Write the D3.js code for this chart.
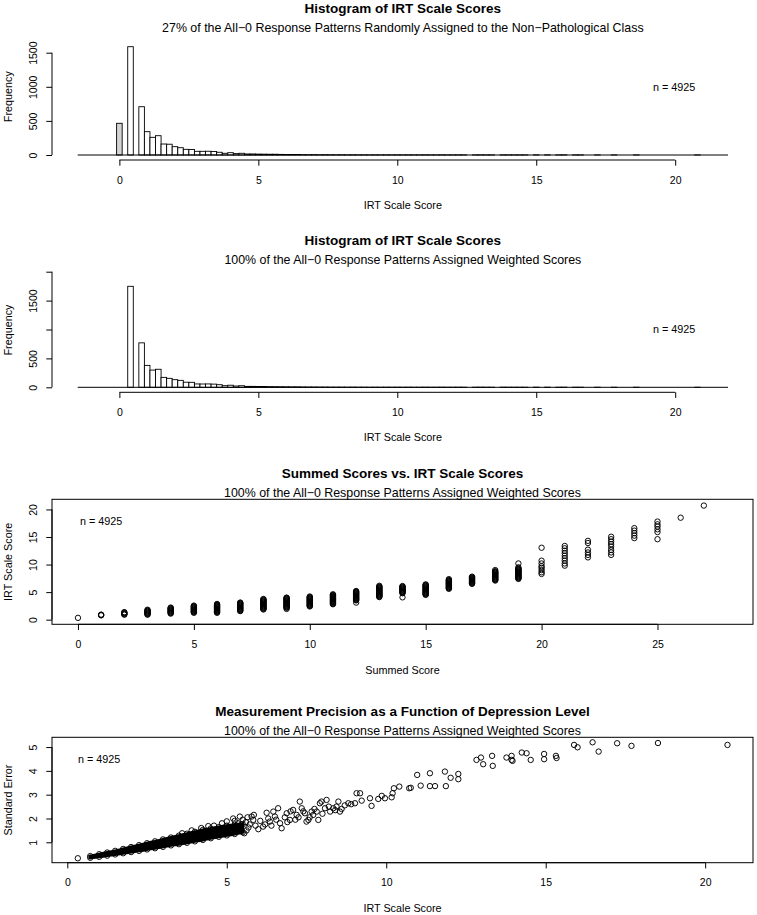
<!DOCTYPE html>
<html><head><meta charset="utf-8">
<script src="https://cdn.jsdelivr.net/npm/d3@7"></script>
<style>
body{margin:0;background:#fff}
svg{display:block;font-family:"Liberation Sans",Arial,Helvetica,sans-serif}
</style></head><body>
<svg id="c" width="757" height="915"></svg>
<script>
// ---------------- data ----------------
const titles = [
  "Histogram of IRT Scale Scores",
  "Histogram of IRT Scale Scores",
  "Summed Scores vs. IRT Scale Scores",
  "Measurement Precision as a Function of Depression Level"
];
const subtitles = [
  "27% of the All\u22120 Response Patterns Randomly Assigned to the Non\u2212Pathological Class",
  "100% of the All\u22120 Response Patterns Assigned Weighted Scores",
  "100% of the All\u22120 Response Patterns Assigned Weighted Scores",
  "100% of the All\u22120 Response Patterns Assigned Weighted Scores"
];
const xLabels = ["IRT Scale Score", "IRT Scale Score", "Summed Score", "IRT Scale Score"];
const yLabels = ["Frequency", "Frequency", "IRT Scale Score", "Standard Error"];
const nLabel = "n = 4925";

// histogram bins: lower edge of bin i = binStart + i*binWidth
const binStart = -0.1, binWidth = 0.2;
const countsRandom = [465,0,1588,0,708,342,259,283,161,158,
 122,107,83,80,54,54,55,52,40,25,
 34,20,25,15,15,13,12,11,11,9,
 8,7,8,5,4,5,3,4,3,2,
 3,2,3,2,2,1,2,1,2,1,
 2,1,2,1,1,2,1,1,2,1,
 1,2,1,0,1,2,1,1,0,2,
 1,1,1,1,0,2,0,2,0,1,
 2,0,1,1,0,0,1,0,0,1,
 0,0,0,1,0,0,0,0,0,0,
 0,0,0,0,1,0];
const countsWeighted = [0,0,1747,0,769,379,298,312,172,155,
 132,120,88,86,58,57,58,55,45,28,
 36,22,27,16,16,14,13,12,11,10,
 9,8,8,6,5,5,4,4,3,3,
 3,2,3,2,2,1,2,1,2,1,
 2,1,2,1,1,2,1,1,2,1,
 1,2,1,0,1,2,1,1,0,2,
 1,1,1,1,0,2,0,2,0,1,
 2,0,1,1,0,0,1,0,0,1,
 0,0,0,1,0,0,0,0,0,0,
 0,0,0,0,1,0];
const grayBins = [0]; // all-0 patterns (first histogram only)
const histXTicks = [0,5,10,15,20];
const hist1YTicks = [0,500,1000,1500];
const hist1YTickLabels = ["0","500","1000","1500"];
const hist2YTicks = [0,500,1000,1500,2000];
const hist2YTickLabels = ["0","500","","1500",""];

// summed score vs IRT scale score
const summedScores = [0,1,2,3,4,5,6,7,8,9,10,11,12,13,14,15,16,17,18,19,20,21,22,23,24,25,26,27];
const irtBySum = [
  [0.33],
  [0.78,0.85,0.92],
  [0.9,1.0,1.1,1.2,1.3,1.36],
  [0.9,1.0,1.1,1.2,1.3,1.4,1.5,1.6,1.7,1.8],
  [1.1,1.2,1.3,1.4,1.5,1.6,1.7,1.8,1.9,2.0,2.1,2.2],
  [1.25,1.35,1.45,1.55,1.65,1.75,1.85,1.95,2.05,2.15,2.25,2.35,2.45,2.55],
  [1.25,1.35,1.45,1.55,1.65,1.75,1.85,1.95,2.05,2.15,2.25,2.35,2.45,2.55,2.65,2.75,2.85],
  [1.55,1.65,1.75,1.85,1.95,2.05,2.15,2.25,2.35,2.45,2.55,2.65,2.75,2.85,2.95,3.05,3.1],
  [1.85,1.95,2.05,2.15,2.25,2.35,2.45,2.55,2.65,2.75,2.85,2.95,3.05,3.15,3.25,3.35,3.45,3.55,3.65,3.75],
  [1.95,2.15,2.25,2.35,2.45,2.55,2.65,2.75,2.85,2.95,3.05,3.15,3.25,3.35,3.45,3.55,3.65,3.75,3.85,3.95,4.0],
  [2.4,2.5,2.6,2.7,2.8,2.9,3.0,3.1,3.2,3.3,3.4,3.5,3.6,3.7,3.8,3.9,4.0,4.1,4.2],
  [2.8,2.9,3.0,3.1,3.2,3.3,3.4,3.5,3.6,3.7,3.8,3.9,4.0,4.1,4.2,4.3,4.4,4.5,4.6],
  [3.1,3.5,3.6,3.7,3.8,3.9,4.0,4.1,4.2,4.3,4.4,4.5,4.6,4.7,4.8,4.9,5.0,5.1,5.2],
  [4.1,4.2,4.3,4.4,4.5,4.6,4.7,4.8,4.9,5.0,5.1,5.2,5.3,5.4,5.5,5.6,5.7,5.8,5.9,6.0,6.15],
  [4.05,4.8,4.9,5.0,5.1,5.2,5.3,5.4,5.5,5.6,5.7,5.8,5.9,6.0,6.1],
  [4.5,4.6,4.7,4.8,4.9,5.0,5.1,5.2,5.3,5.4,5.5,5.6,5.7,5.8,5.9,6.0,6.1,6.2,6.3,6.4],
  [5.6,5.7,5.8,5.9,6.0,6.1,6.2,6.3,6.4,6.5,6.6,6.7,6.8,6.9,7.0,7.1,7.2,7.35],
  [6.5,6.6,6.7,6.8,6.9,7.0,7.1,7.2,7.3,7.4,7.5,7.6,7.7,7.8],
  [7.1,7.2,7.3,7.4,7.5,7.6,7.7,7.8,7.9,8.0,8.1,8.2,8.3,8.4,8.5,8.6,8.7,8.8,9.0],
  [7.4,7.5,7.6,7.7,7.8,7.9,8.0,8.1,8.2,8.3,8.4,8.5,8.6,8.7,8.8,8.9,9.0,9.1,9.2,9.3,9.5,10.2],
  [8.3,8.6,9.0,9.4,9.7,10.2,10.7,13.05],
  [9.8,10.2,10.7,11.15,11.6,12.05,12.5,12.95,13.37],
  [11.3,11.75,12.2,12.7,13.9,14.3],
  [11.75,12.2,12.65,13.25,13.7,14.15,14.6,15.05],
  [14.8,15.25,15.7,16.15,16.6],
  [14.6,15.9,16.4,16.9,17.3,17.8],
  [18.5],
  [20.7]
];
const sumXTicks = [0,5,10,15,20,25];
const sumYTicks = [0,5,10,15,20];

// IRT scale score vs standard error
// dense band (fully overlapping circles): lower / upper envelope
const bandIRT  = [0.72,1.0,1.25,1.5,1.75,2.0,2.25,2.5,2.75,3.0,3.25,3.5,3.75,4.0,4.25,4.5,4.75,5.0,5.25,5.5];
const bandLow  = [0.35,0.39,0.44,0.49,0.54,0.59,0.64,0.70,0.75,0.81,0.87,0.92,0.98,1.04,1.10,1.17,1.23,1.29,1.35,1.42];
const bandHigh = [0.42,0.50,0.57,0.64,0.72,0.80,0.88,0.96,1.04,1.12,1.20,1.28,1.36,1.44,1.52,1.58,1.64,1.70,1.74,1.76];
const sparsePoints = [
 [0.33,0.33],
 [3.6,1.38],[3.9,1.5],[4.2,1.6],[4.42,1.68],[4.6,1.7],[4.85,1.8],[5.0,1.88],[5.1,1.6],[5.2,2.0],[5.25,1.9],
 [5.35,1.8],[5.41,2.08],[5.45,1.75],[5.5,1.95],[5.55,1.38],[5.6,1.85],[5.62,1.5],[5.65,2.05],[5.68,1.62],
 [5.72,1.75],[5.9,1.7],[5.85,2.15],
 [5.78,2.08],[5.83,1.94],[5.99,1.55],[6.05,1.9],[6.14,1.66],[6.2,1.75],[6.25,2.24],[6.3,2.0],[6.35,1.87],
 [6.4,1.7],[6.46,2.29],[6.51,2.08],[6.55,1.95],[6.61,2.43],[6.67,1.80],[6.72,1.59],[6.82,2.05],[6.88,2.22],
 [6.9,1.85],[6.98,1.94],[7.0,2.3],[7.08,2.36],[7.15,1.95],[7.19,2.15],[7.25,2.05],[7.29,2.71],[7.35,2.43],
 [7.4,2.3],[7.45,2.22],[7.5,1.87],[7.56,1.94],[7.6,2.05],[7.66,2.29],[7.71,2.15],[7.75,2.4],[7.82,2.29],
 [7.87,1.94],[7.92,2.64],[7.97,2.71],[8.0,2.2],[8.08,2.43],[8.13,2.78],[8.2,2.5],[8.24,2.29],[8.34,2.43],
 [8.4,2.35],[8.44,2.5],[8.5,2.71],[8.55,2.29],[8.6,2.4],[8.7,2.55],[8.81,2.64],[8.9,2.6],[9.02,2.64],
 [9.07,3.06],[9.18,3.06],[9.23,2.75],[9.49,2.85],[9.54,2.53],[9.75,2.82],
 [9.86,2.95],[9.96,2.85],[10.17,2.89],[10.2,3.06],[10.24,3.27],[10.41,3.34],[10.72,3.27],[10.77,3.29],
 [10.97,3.83],[11.08,3.38],[11.37,3.90],[11.37,3.36],[11.53,3.36],[11.84,3.97],[11.87,3.36],[12.02,3.71],
 [12.26,3.87],[12.26,3.65],[12.83,4.46],[12.97,4.56],[13.04,4.28],[13.32,4.63],[13.34,4.21],[13.77,4.56],
 [13.93,4.63],[13.93,4.46],[13.96,4.42],[14.25,4.77],[14.4,4.74],[14.53,4.46],[14.95,4.71],[14.95,4.49],
 [15.32,4.63],[15.34,4.54],[15.89,5.09],[16.0,4.99],[16.47,5.20],[16.66,4.81],[17.24,5.16],[17.69,5.05],
 [18.52,5.17],[20.7,5.09]
];
const seXTicks = [0,5,10,15,20];
const seYTicks = [1,2,3,4,5];

// ---------------- drawing ----------------
const svg = d3.select("#c");
const TICK = 10.5, LAB = 10.8;
const R = 2.7, SW = 0.95;

function titleBlock(i, cx, ty, sy) {
  svg.append("text").attr("x", cx).attr("y", ty).attr("text-anchor","middle")
    .attr("dominant-baseline","central").attr("font-weight","bold").attr("font-size",13.5)
    .text(titles[i]);
  svg.append("text").attr("x", cx).attr("y", sy).attr("text-anchor","middle")
    .attr("dominant-baseline","central").attr("font-size",12.4).text(subtitles[i]);
}
function xAxis(scale, ticks, y, labels) {
  const ax = d3.axisBottom(scale).tickValues(ticks).tickSize(5.7).tickPadding(10.5)
    .tickFormat((d,i) => labels ? labels[i] : d3.format("d")(d));
  const g = svg.append("g").attr("transform", `translate(0,${y})`).call(ax);
  g.attr("font-family", null).attr("font-size", TICK);
  g.select(".domain").remove();
  g.append("line").attr("x1", scale(ticks[0])).attr("x2", scale(ticks[ticks.length-1]))
    .attr("stroke","#000");
  g.selectAll(".tick text").attr("fill","#000");
}
function yAxis(scale, ticks, x, labels) {
  const ax = d3.axisLeft(scale).tickValues(ticks).tickSize(5.7)
    .tickFormat((d,i) => labels ? labels[i] : d3.format("d")(d));
  const g = svg.append("g").attr("transform", `translate(${x},0)`).call(ax);
  g.attr("font-family", null).attr("font-size", TICK);
  g.select(".domain").remove();
  g.append("line").attr("y1", scale(ticks[0])).attr("y2", scale(ticks[ticks.length-1]))
    .attr("stroke","#000");
  g.selectAll(".tick text").attr("x", null).attr("dy", null).attr("fill","#000")
    .attr("text-anchor","middle").attr("dominant-baseline","central")
    .attr("transform","translate(-19.5,0) rotate(-90)");
}
function axisLabels(i, cx, xly, cy) {
  svg.append("text").attr("x", cx).attr("y", xly).attr("text-anchor","middle")
    .attr("dominant-baseline","central").attr("font-size",LAB).text(xLabels[i]);
  svg.append("text").attr("transform",`translate(8,${cy}) rotate(-90)`).attr("text-anchor","middle")
    .attr("dominant-baseline","central").attr("font-size",LAB).text(yLabels[i]);
}
function nText(x, y) {
  svg.append("text").attr("x", x).attr("y", y).attr("dominant-baseline","central")
    .attr("font-size",LAB).text(nLabel);
}

function histogram(i, counts, yDom, yRng, yTicks, yTickLabels, axisY, titleY, subY, xlabY, ylabY, nY, gray) {
  const x = d3.scaleLinear([-1.5, 21.9], [77.7, 728]);
  const y = d3.scaleLinear(yDom, yRng);
  const bins = counts.map((c, k) => ({k, c, x0: binStart + k*binWidth, x1: binStart + (k+1)*binWidth}))
    .filter(b => b.c > 0);
  svg.append("g").selectAll("rect").data(bins).join("rect")
    .attr("x", b => x(b.x0)).attr("width", b => x(b.x1) - x(b.x0))
    .attr("y", b => y(b.c)).attr("height", b => y(0) - y(b.c))
    .attr("fill", b => gray.includes(b.k) ? "#d3d3d3" : "#fff")
    .attr("stroke","#000").attr("stroke-width",0.9);
  svg.append("line").attr("x1", x.range()[0]).attr("x2", x.range()[1])
    .attr("y1", y(0)).attr("y2", y(0)).attr("stroke","#000");
  xAxis(x, histXTicks, axisY);
  yAxis(y, yTicks, 52, yTickLabels);
  const cx = (x.range()[0] + x.range()[1]) / 2;
  titleBlock(i, cx, titleY, subY);
  axisLabels(i, cx, xlabY, ylabY);
  nText(653, nY);
}

histogram(0, countsRandom, [0,1500], [155,52.7], hist1YTicks, hist1YTickLabels, 160, 8.3, 27.7, 205, 96.7, 87.3, grayBins);
histogram(1, countsWeighted, [0,2000], [387.3,271.7], hist2YTicks, hist2YTickLabels, 392.3, 240.7, 259.5, 437.3, 330, 329, []);

// ---- panel 3 ----
(function(){
  const x = d3.scaleLinear([-1.12, 29.12], [52, 753]);
  const y = d3.scaleLinear([-0.84, 21.84], [624.3, 499.3]);
  const pts = [];
  summedScores.forEach((s, k) => irtBySum[k].forEach(v => pts.push([s, v])));
  svg.append("g").selectAll("circle").data(pts).join("circle")
    .attr("cx", d => x(d[0])).attr("cy", d => y(d[1])).attr("r", R)
    .attr("fill","none").attr("stroke","#000").attr("stroke-width",SW);
  svg.append("rect").attr("x",52).attr("y",499.3).attr("width",701).attr("height",125)
    .attr("fill","none").attr("stroke","#000");
  xAxis(x, sumXTicks, 624.3);
  yAxis(y, sumYTicks, 52);
  titleBlock(2, 402.5, 473.3, 492.7);
  axisLabels(2, 402.5, 670, 561.8);
  nText(80, 520.7);
})();

// ---- panel 4 ----
(function(){
  const x = d3.scaleLinear([-0.48, 21.5], [52, 753]);
  const y = d3.scaleLinear([0.143, 5.41], [862.7, 737.3]);
  const band = bandIRT.map((v, k) => ({x: v, lo: bandLow[k], hi: bandHigh[k]}));
  const area = d3.area().x(d => x(d.x)).y0(d => y(d.lo)).y1(d => y(d.hi)).curve(d3.curveMonotoneX);
  svg.append("path").datum(band).attr("d", area).attr("fill","#000")
    .attr("stroke","#000").attr("stroke-width",3);
  const edgePts = [];
  band.forEach(d => { edgePts.push([d.x, d.lo]); edgePts.push([d.x, d.hi]); });
  const all = edgePts.concat(sparsePoints);
  svg.append("g").selectAll("circle").data(all).join("circle")
    .attr("cx", d => x(d[0])).attr("cy", d => y(d[1])).attr("r", R)
    .attr("fill","none").attr("stroke","#000").attr("stroke-width",SW);
  svg.append("rect").attr("x",52).attr("y",737.3).attr("width",701).attr("height",125.4)
    .attr("fill","none").attr("stroke","#000");
  xAxis(x, seXTicks, 862.7);
  yAxis(y, seYTicks, 52);
  titleBlock(3, 402.5, 711.7, 731);
  axisLabels(3, 402.5, 908.3, 800);
  nText(78, 759.3);
})();
</script>
</body></html>
